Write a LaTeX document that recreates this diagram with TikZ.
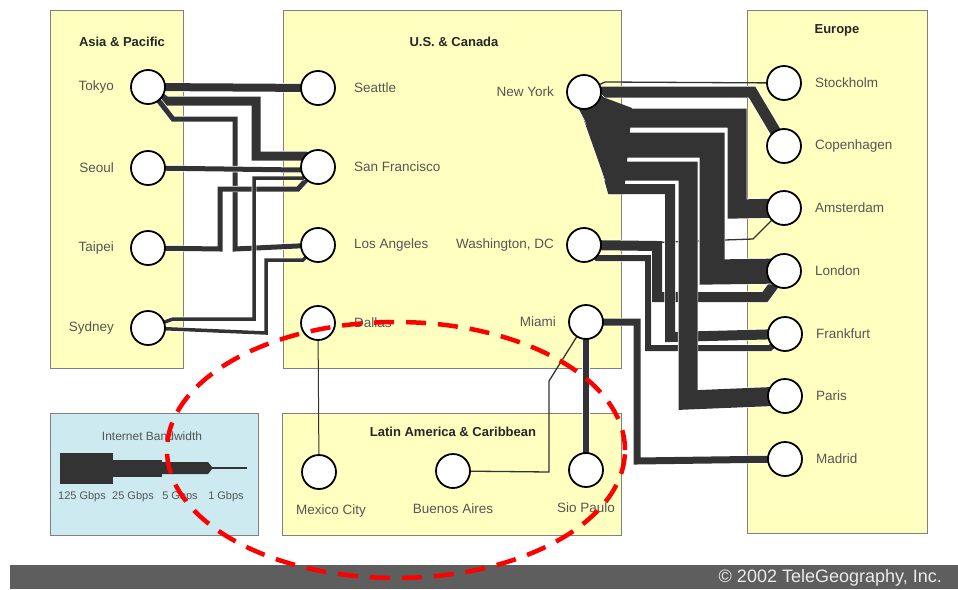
\documentclass[tikz,border=0pt]{standalone}
\usepackage{fontspec}
\setmainfont{Liberation Sans}
\usetikzlibrary{positioning}
\definecolor{regionyellow}{RGB}{255,255,192}
\definecolor{legendblue}{RGB}{204,234,240}
\definecolor{linkgray}{RGB}{51,51,51}
\definecolor{labelgray}{RGB}{85,85,85}
\definecolor{footergray}{RGB}{94,94,94}
\pgfdeclarelayer{boxes}
\pgfdeclarelayer{links}
\pgfsetlayers{boxes,links,main}

\begin{document}
\begin{tikzpicture}[
    x=1pt, y=-1pt,
    region/.style={draw=black!50, fill=regionyellow, line width=0.6pt},
    title/.style={font=\fontsize{13}{15}\selectfont\bfseries, text=black!85},
    city/.style={circle, draw=black, fill=white, line width=1.8pt, minimum size=34pt, inner sep=0pt},
    lbl/.style={font=\fontsize{13.5}{15}\selectfont, text=labelgray, inner sep=0pt},
    link/.style={draw=white, line width=0.7pt, double=linkgray, double distance=#1},
    wire/.style={draw=linkgray, line width=1.3pt},
    legendtext/.style={font=\fontsize{11}{13}\selectfont, text=labelgray, inner sep=0pt}
]
\useasboundingbox (0,0) rectangle (958,589);

% Regions
\begin{pgfonlayer}{boxes}
\draw[region] (50,10) rectangle (183,368);
\draw[region] (283,10) rectangle (621,368);
\draw[region] (747,10) rectangle (927,533);
\draw[region] (282,413) rectangle (621,535);
\draw[draw=black!50, fill=legendblue, line width=0.6pt] (50,413) rectangle (258,535);
\end{pgfonlayer}

\node[title] (asiatitle) at (122,42) {Asia \& Pacific};
\node[title] (ustitle) at (454,42) {U.S. \& Canada};
\node[title] (eutitle) at (837,30) {Europe};
\node[title] (latintitle) at (453,432) {Latin America \& Caribbean};

% Asia & Pacific
\node[city] (tokyo) at (148,87) {};
\node[city] (seoul) at (148,168) {};
\node[city] (taipei) at (148,248) {};
\node[city] (sydney) at (148,328) {};
\node[lbl, left=16pt of tokyo] {Tokyo};
\node[lbl, left=16pt of seoul] {Seoul};
\node[lbl, left=16pt of taipei] {Taipei};
\node[lbl, left=16pt of sydney] {Sydney};

% U.S. & Canada
\node[city] (seattle) at (318,88) {};
\node[city] (sanfran) at (318,167) {};
\node[city] (losangeles) at (318,245) {};
\node[city] (dallas) at (318,323) {};
\node[city] (newyork) at (584,92) {};
\node[city] (washington) at (584,245) {};
\node[city] (miami) at (586,322) {};
\node[lbl, right=18pt of seattle] {Seattle};
\node[lbl, right=18pt of sanfran] {San Francisco};
\node[lbl, right=18pt of losangeles] {Los Angeles};
\node[lbl, right=18pt of dallas] {Dallas};
\node[lbl, left=12pt of newyork] {New York};
\node[lbl, left=12pt of washington] {Washington, DC};
\node[lbl, left=12pt of miami] {Miami};

% Europe
\node[city] (stockholm) at (784,83) {};
\node[city] (copenhagen) at (784,146) {};
\node[city] (amsterdam) at (784,208) {};
\node[city] (london) at (784,271) {};
\node[city] (frankfurt) at (785,334) {};
\node[city] (paris) at (785,396) {};
\node[city] (madrid) at (785,459) {};
\node[lbl, right=13pt of stockholm] {Stockholm};
\node[lbl, right=13pt of copenhagen] {Copenhagen};
\node[lbl, right=13pt of amsterdam] {Amsterdam};
\node[lbl, right=13pt of london] {London};
\node[lbl, right=13pt of frankfurt] {Frankfurt};
\node[lbl, right=13pt of paris] {Paris};
\node[lbl, right=13pt of madrid] {Madrid};

% Latin America & Caribbean
\node[city] (mexicocity) at (319,472) {};
\node[city] (buenosaires) at (453,471) {};
\node[city] (saopaulo) at (586,470) {};
\node[lbl, below=15pt of mexicocity, xshift=12pt] {Mexico City};
\node[lbl, below=15pt of buenosaires] {Buenos Aires};
\node[lbl, below=15pt of saopaulo] {Sio Paulo};

\begin{pgfonlayer}{links}
% Asia - U.S.
\draw[link=8pt] (tokyo.center) -- (seattle.center);
\draw[link=9pt] (tokyo.center) -- (166,101) -- (256,101) -- (256,156) -- (305,156) -- (sanfran.center);
\draw[link=5pt] (tokyo.center) -- (173,119) -- (235,119) -- (235,249) -- (losangeles.center);
\draw[link=5pt] (seoul.center) -- (300,170) -- (sanfran.center);
\draw[link=5pt] (taipei.center) -- (220,249) -- (220,189) -- (298,189) -- (sanfran.center);
\draw[link=3.5pt] (sydney.center) -- (173,319) -- (254,319) -- (254,178) -- (303,178) -- (sanfran.center);
\draw[link=3.5pt] (sydney.center) -- (266,333) -- (266,260) -- (303,260) -- (losangeles.center);

% U.S. - Europe
\draw[wire] (newyork.center) -- (605,82) -- (stockholm.center);
\draw[link=11pt] (newyork.center) -- (752,92) -- (copenhagen.center);
\draw[link=7pt] (miami.center) -- (637,322) -- (637,461) -- (madrid.center);
\draw[link=6pt] (washington.center) -- (597,258) -- (648,258) -- (648,348) -- (770,348) -- (frankfurt.center);
\draw[link=10pt] (washington.center) -- (657,246) -- (657,297) -- (765,297) -- (london.center);
\draw[wire] (washington.center) -- (753,239) -- (amsterdam.center);
\draw[link=10pt] (newyork.center) -- (612,189) -- (670,189) -- (670,337) -- (frankfurt.center);
\draw[link=19pt] (newyork.center) -- (612,171) -- (688,171) -- (688,400) -- (paris.center);
\draw[link=25pt] (newyork.center) -- (612,145) -- (712,145) -- (712,272) -- (london.center);
\draw[link=19pt] (newyork.center) -- (612,118) -- (737,118) -- (737,209) -- (amsterdam.center);
\fill[linkgray] (578,100) -- (600,96) -- (632,108) -- (624,194) -- (610,194) -- cycle;

% U.S. - Latin America
\draw[wire, line width=1pt] (dallas.center) -- (mexicocity.center);
\draw[wire] (miami.center) -- (549,381) -- (549,472) -- (buenosaires.center);
\draw[link=6pt] (miami.center) -- (saopaulo.center);
\end{pgfonlayer}

% Legend
\node[legendtext, font=\fontsize{12}{14}\selectfont] (bwtitle) at (152,436) {Internet Bandwidth};
\fill[linkgray] (60,453) rectangle (113,484);
\fill[linkgray] (113,460) rectangle (162,477);
\fill[linkgray] (162,462) -- (208,462) -- (212,467) -- (212,469) -- (208,474) -- (162,474) -- cycle;
\draw[linkgray, line width=1.5pt] (210,468) -- (247,468);
\node[legendtext] (bw125) at (82,497) {125 Gbps};
\node[legendtext] (bw25) at (133,497) {25 Gbps};
\node[legendtext] (bw5) at (180,497) {5 Gbps};
\node[legendtext] (bw1) at (226,497) {1 Gbps};

% Footer
\fill[footergray] (10,565) rectangle (958,589);
\node[anchor=east, font=\fontsize{18}{20}\selectfont, text=black!8, inner sep=0pt] (credit) at (942,578) {© 2002 TeleGeography, Inc.};

% Highlight
\draw[red, line width=4.5pt, dash pattern=on 20pt off 12pt] (396,450) ellipse [x radius=229pt, y radius=128pt];

\end{tikzpicture}
\end{document}
